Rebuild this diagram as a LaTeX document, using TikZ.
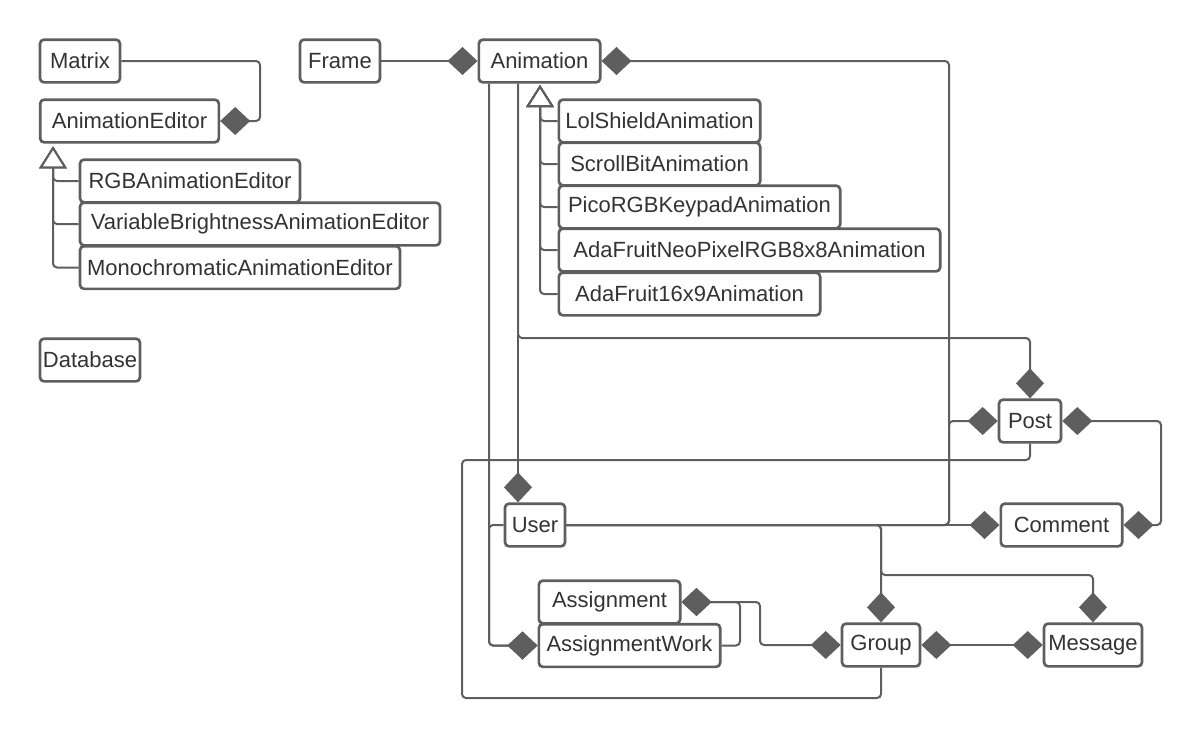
\documentclass[tikz,border=0pt]{standalone}
\usepackage{fontspec}
\setmainfont{Liberation Sans}
\usetikzlibrary{arrows.meta}
\definecolor{mygray}{RGB}{94,94,94}
\definecolor{mytext}{RGB}{51,51,51}
\tikzset{
  cls/.style={draw=mygray, line width=2pt, rounded corners=3pt, fill=white, text=mytext,
    minimum height=32pt, inner sep=2pt, font=\fontsize{16.5}{20}\selectfont},
  link/.style={draw=mygray, line width=1.5pt, rounded corners=3pt},
  dia/.tip={Diamond[length=22.5pt,width=21pt]},
  tri/.tip={Triangle[length=16.5pt,width=20.5pt,fill=white]},
}
\begin{document}
\begin{tikzpicture}[x=0.75pt, y=-0.75pt]
\useasboundingbox (0,0) rectangle (1202,740);

% classes
\node[cls, minimum width=60pt] (matrix) at (80,61) {Matrix};
\node[cls, minimum width=134pt] (animeditor) at (129.5,121) {AnimationEditor};
\node[cls, minimum width=165pt] (rgbeditor) at (190,181) {RGBAnimationEditor};
\node[cls, minimum width=270pt] (vbeditor) at (260,224) {VariableBrightnessAnimationEditor};
\node[cls, minimum width=240pt] (monoeditor) at (240,267.5) {MonochromaticAnimationEditor};
\node[cls, minimum width=75pt] (database) at (90,360) {Database};
\node[cls, minimum width=60pt] (frame) at (340,61) {Frame};
\node[cls, minimum width=91pt] (animation) at (539.5,61) {Animation};
\node[cls, minimum width=151pt] (lolshield) at (659.5,121) {LolShieldAnimation};
\node[cls, minimum width=151pt] (scrollbit) at (659.5,164) {ScrollBitAnimation};
\node[cls, minimum width=211pt] (picorgb) at (699.5,207) {PicoRGBKeypadAnimation};
\node[cls, minimum width=286pt] (neopixel) at (749.5,250) {AdaFruitNeoPixelRGB8x8Animation};
\node[cls, minimum width=196pt] (ada16x9) at (689.5,294) {AdaFruit16x9Animation};
\node[cls, minimum width=46.5pt] (post) at (1030,421) {Post};
\node[cls, minimum width=91pt] (comment) at (1061.5,525) {Comment};
\node[cls, minimum width=45pt] (user) at (535,525) {User};
\node[cls, minimum width=106pt] (assignment) at (609.5,602) {Assignment};
\node[cls, minimum width=136pt] (assignwork) at (629.5,645.5) {AssignmentWork};
\node[cls, minimum width=58.5pt] (group) at (881,645) {Group};
\node[cls, minimum width=73.5pt] (message) at (1093,645) {Message};

% inheritance
\foreach \sub in {rgbeditor, vbeditor, monoeditor}
  \draw[link, -tri, shorten >=2pt] (\sub.west) -| (53,0 |- animeditor.south);
\foreach \sub in {lolshield, scrollbit, picorgb, neopixel, ada16x9}
  \draw[link, -tri, shorten >=1pt] (\sub.west) -| (540,0 |- animation.south);

% composition
\draw[link, -dia] (matrix.east) -| (260,121) -- (animeditor.east);
\draw[link, -dia] (frame.east) -- (animation.west);
\draw[link, dia-] (animation.east) -| (949,525) -- (user.east);
\draw[link, -dia] (user.east) -| (949,421) -- (post.west);
\draw[link, -dia] (user.east) -- (comment.west);
\draw[link, -dia] (animation.south -| 518,0) |- (1030,338) -- (post.north);
\draw[link, -dia] (animation.south -| 518,0) -- (user.north -| 518,0);
\draw[link, -dia] (animation.south -| 489,0) |- (assignwork.west);
\draw[link, -dia] (user.west) -| (489,645.5) -- (assignwork.west);
\draw[link] (post.south) |- (462,460) |- (881,698) -- (group.south);
\draw[link, -dia] (user.east) -| (group.north);
\draw[link, -dia] (user.east) -| (881,575) -| (message.north);
\draw[link, dia-dia] (post.east) -| (1161,525) -- (comment.east);
\draw[link, -dia] (assignwork.east) -| (740,602) -- (assignment.east);
\draw[link, dia-dia] (assignment.east) -| (760,645) -- (group.west);
\draw[link, dia-dia] (group.east) -- (message.west);
\end{tikzpicture}
\end{document}
